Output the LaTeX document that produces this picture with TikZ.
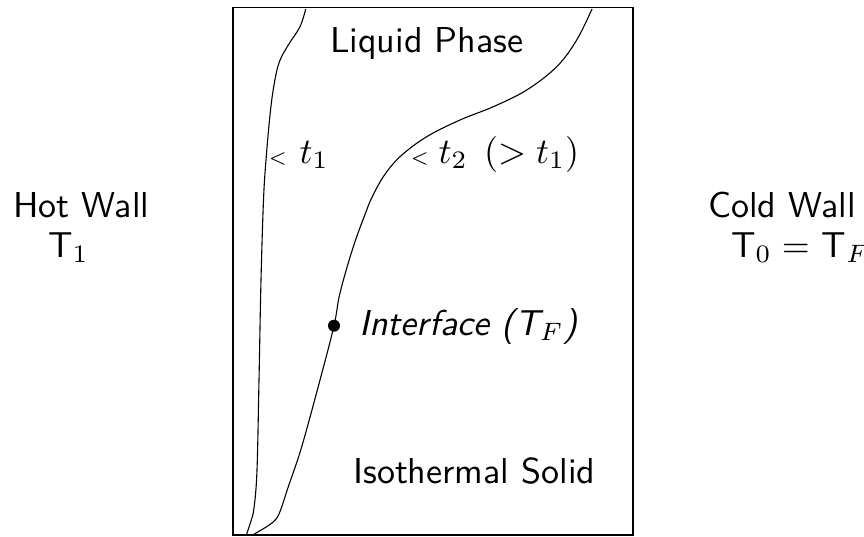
\documentclass[tikz,border=0pt]{standalone}
\newcommand{\bigtxt}[1]{\scalebox{3.6}{\sffamily #1}}
\begin{document}
\begin{tikzpicture}[x=1pt,y=-1pt,
  lbl/.style={inner sep=0pt,anchor=base west},
  curve/.style={line width=1.1pt},
  boxline/.style={line width=1.1pt}]
\useasboundingbox (0,0) rectangle (864,536);
\draw[boxline] (233,7.5) rectangle (633,535);
\draw[curve] plot[smooth,tension=0.6] coordinates {(305.7,9) (300,26.7) (288.3,45) (279.3,62) (274,85) (270,115) (266,160) (263.5,200) (261,280) (259,380) (257,470) (254,508) (250.7,521.7) (246.7,534)};
\draw[curve] plot[smooth,tension=0.6] coordinates {(592,9) (576.7,40) (556.7,66.7) (526.7,90) (493.3,106.7) (460,120) (426.7,136.7) (400,156.7) (383.3,176.7) (371.7,198) (366.7,210) (353.3,246.7) (340,293) (334,325.7) (320,380) (301.7,446.7) (288.3,486.7) (279,514) (272,523) (266.7,526.7) (254.3,534)};
\fill (334,325.7) circle (6);
\node[lbl] (liq) at (330,52) {\bigtxt{Liquid Phase}};
\node[lbl] (t1) at (268,163) {\bigtxt{$\scriptscriptstyle <$ $t_1$}};
\node[lbl] (t2) at (410,163) {\bigtxt{$\scriptscriptstyle <$\hspace{0.25em}$t_2$\hspace{0.45em}$(> t_1)$}};
\node[lbl] (hot) at (13,217) {\bigtxt{Hot Wall}};
\node[lbl] (T1) at (48,257) {\bigtxt{T$_1$}};
\node[lbl] (cold) at (708,217) {\bigtxt{Cold Wall}};
\node[lbl] (T0) at (731,257) {\bigtxt{T$_0 =$ T$_F$}};
\node[lbl] (int) at (359,335) {\bigtxt{\itshape Interface (T$_F$)}};
\node[lbl] (sol) at (353,483) {\bigtxt{Isothermal Solid}};
\end{tikzpicture}
\end{document}
